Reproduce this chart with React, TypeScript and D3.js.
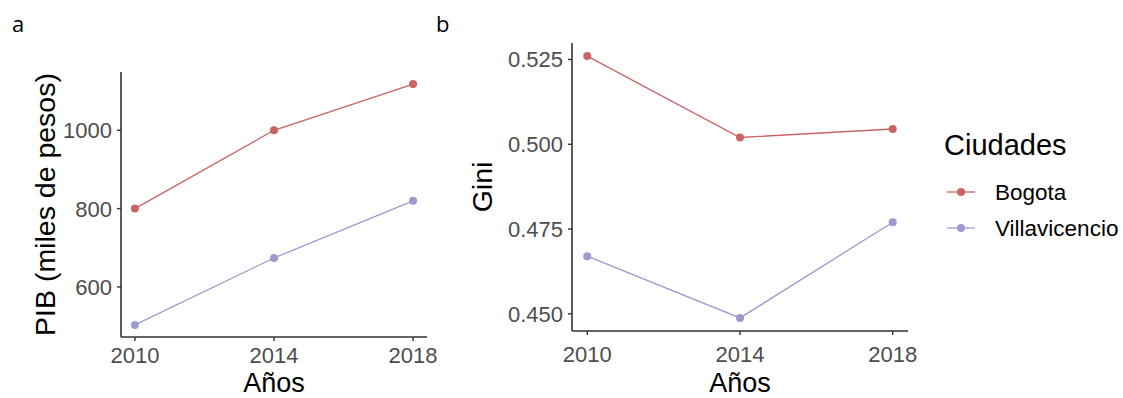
import React from "react";
import * as d3 from "d3";

const years = [2010, 2014, 2018];
const cities = ["Bogota", "Villavicencio"];
const cityColors = ["#CC6363", "#9B9BCF"];
const pibBogota = [800, 1000, 1118];
const pibVillavicencio = [503, 674, 820];
const giniBogota = [0.526, 0.502, 0.5045];
const giniVillavicencio = [0.467, 0.4488, 0.477];
const pibTicks = [600, 800, 1000];
const giniTicks = [0.45, 0.475, 0.5, 0.525];

const FONT = "'Liberation Sans', Arial, sans-serif";

// ggplot-like 5% expansion
const expand = (vals: number[]): [number, number] => {
  const [lo, hi] = d3.extent(vals) as [number, number];
  const pad = (hi - lo) * 0.05;
  return [lo - pad, hi + pad];
};

type PanelProps = {
  series: number[][];
  yTicks: number[];
  yFormat: (v: number) => string;
  xRange: [number, number];
  yRange: [number, number];
  yTitle: string;
  yTitleX: number;
  tickBaseline: number;
};

const Panel = ({ series, yTicks, yFormat, xRange, yRange, yTitle, yTitleX, tickBaseline }: PanelProps) => {
  const x = d3.scaleLinear().domain(expand(years)).range(xRange);
  const y = d3.scaleLinear().domain(expand(series.flat())).range(yRange);
  const line = d3
    .line<number>()
    .x((_, i) => x(years[i]))
    .y((d) => y(d));
  const [x0, x1] = xRange;
  const [yb, yt] = yRange;
  return (
    <g>
      {series.map((s, k) => (
        <g key={cities[k]}>
          <path d={line(s) || ""} fill="none" stroke={cityColors[k]} strokeWidth={1.3} />
          {s.map((v, i) => (
            <circle key={i} cx={x(years[i])} cy={y(v)} r={4} fill={cityColors[k]} />
          ))}
        </g>
      ))}
      <line x1={x0} x2={x0} y1={yt} y2={yb} stroke="#333" strokeWidth={1.6} />
      <line x1={x0} x2={x1} y1={yb} y2={yb} stroke="#333" strokeWidth={1.6} />
      {yTicks.map((t) => (
        <g key={t}>
          <line x1={x0 - 4} x2={x0} y1={y(t)} y2={y(t)} stroke="#333" strokeWidth={1.4} />
          <text x={x0 - 9} y={y(t)} dy="0.36em" textAnchor="end" fontSize={22} fill="#4D4D4D" fontFamily={FONT}>
            {yFormat(t)}
          </text>
        </g>
      ))}
      {years.map((t) => (
        <g key={t}>
          <line x1={x(t)} x2={x(t)} y1={yb} y2={yb + 4} stroke="#333" strokeWidth={1.4} />
          <text x={x(t)} y={tickBaseline} textAnchor="middle" fontSize={22} fill="#4D4D4D" fontFamily={FONT}>
            {t}
          </text>
        </g>
      ))}
      <text x={(x0 + x1) / 2} y={392} textAnchor="middle" fontSize={27} fill="#000" fontFamily={FONT}>
        Años
      </text>
      <text
        transform={`translate(${yTitleX},${(yt + yb) / 2}) rotate(-90)`}
        textAnchor="middle"
        fontSize={28.5}
        fill="#000"
        fontFamily={FONT}
      >
        {yTitle}
      </text>
    </g>
  );
};

export default function App() {
  const legendY = [192, 228];
  return (
    <svg width={1123} height={398} style={{ position: "absolute", left: 0, top: 0, background: "#fff" }}>
      <rect width={1123} height={398} fill="#fff" />
      <text x={12} y={32} fontSize={22} fontFamily="'Open Sans', sans-serif">a</text>
      <text x={436} y={32} fontSize={22} fontFamily="'Open Sans', sans-serif">b</text>
      <Panel
        series={[pibBogota, pibVillavicencio]}
        yTicks={pibTicks}
        yFormat={d3.format("d")}
        xRange={[121, 427]}
        yRange={[337, 72]}
        yTitle="PIB (miles de pesos)"
        yTitleX={55}
        tickBaseline={363}
      />
      <Panel
        series={[giniBogota, giniVillavicencio]}
        yTicks={giniTicks}
        yFormat={d3.format(".3f")}
        xRange={[572, 908]}
        yRange={[331, 43]}
        yTitle="Gini"
        yTitleX={492}
        tickBaseline={362}
      />
      <text x={944} y={155} fontSize={29} fill="#000" fontFamily={FONT}>
        Ciudades
      </text>
      {cities.map((c, k) => (
        <g key={c}>
          <line x1={947} x2={975} y1={legendY[k]} y2={legendY[k]} stroke={cityColors[k]} strokeWidth={1.3} />
          <circle cx={961} cy={legendY[k]} r={4} fill={cityColors[k]} />
          <text x={995} y={legendY[k]} dy="0.36em" fontSize={22.5} fill="#000" fontFamily={FONT}>
            {c}
          </text>
        </g>
      ))}
    </svg>
  );
}
